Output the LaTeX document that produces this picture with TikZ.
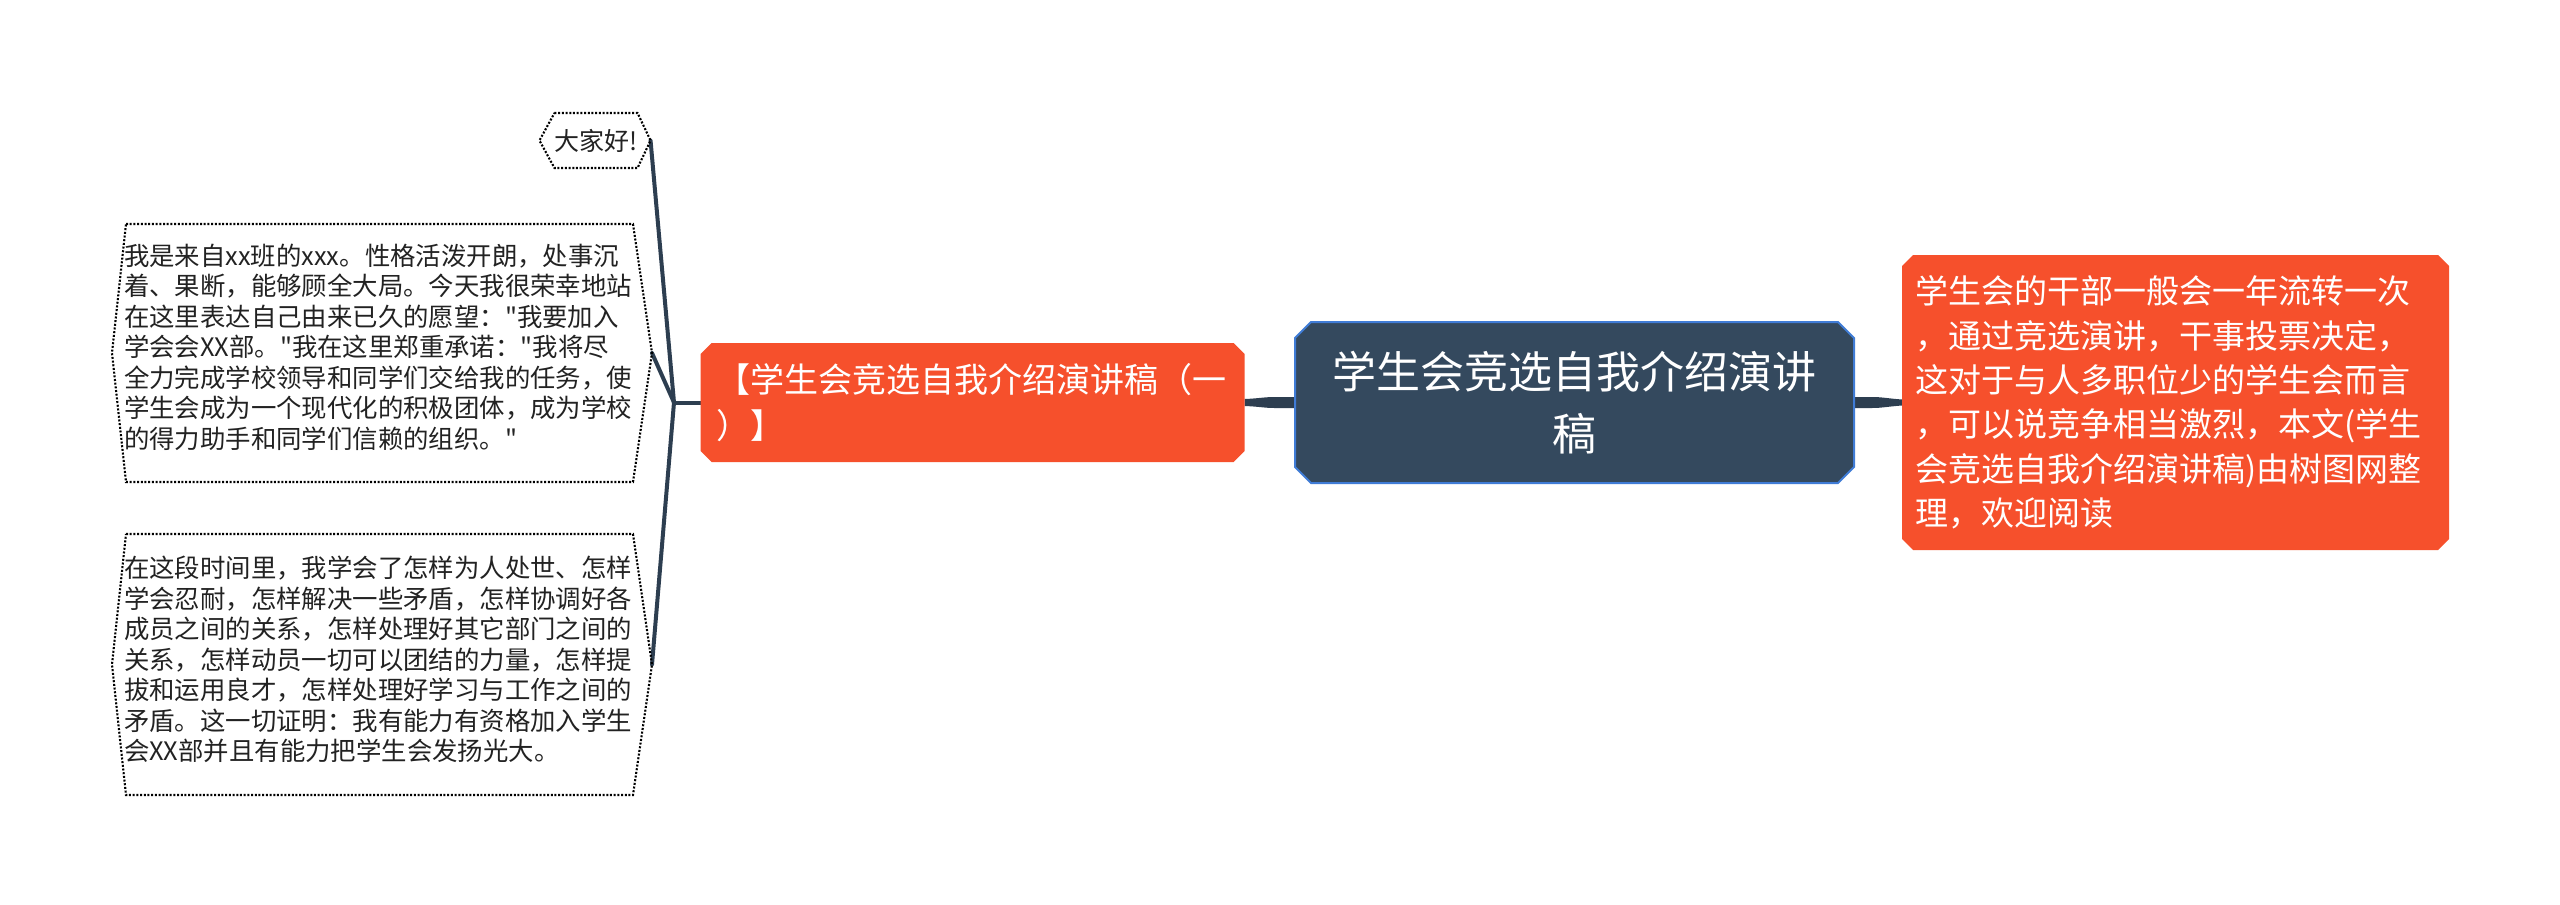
\documentclass[tikz,border=0pt]{standalone}
\usepackage{fontspec}
\setmainfont{Noto Sans CJK SC}[Ligatures=TeXOff]
\usetikzlibrary{calc,backgrounds}
\definecolor{redn}{RGB}{246,80,44}
\definecolor{darkn}{RGB}{52,73,94}
\definecolor{bluen}{RGB}{64,124,214}
\definecolor{conn}{RGB}{45,62,80}
\definecolor{txtd}{RGB}{34,34,34}
\newcommand\chamfpath[2]{($(#1.north west)+(#2,0)$) -- ($(#1.north east)+(-#2,0)$) -- ($(#1.north east)+(0,#2)$) -- ($(#1.south east)+(0,-#2)$) -- ($(#1.south east)+(-#2,0)$) -- ($(#1.south west)+(#2,0)$) -- ($(#1.south west)+(0,-#2)$) -- ($(#1.north west)+(0,#2)$) -- cycle}
\begin{document}
\begin{tikzpicture}[x=1pt,y=-1pt,
  every node/.style={inner sep=0pt, outer sep=0pt},
  boxtxt/.style={anchor=west, align=left, text=txtd, font={\fontsize{25.4pt}{30.5pt}\selectfont}},
  hexline/.style={draw=black, line width=2.1pt, dash pattern=on 2pt off 1.7pt},
  link/.style={draw=conn, line width=4pt, line cap=round, line join=round},
  redbox/.style={text=white, align=left, font={\fontsize{34pt}{46pt}\selectfont}},
]
\useasboundingbox (0,0) rectangle (2560,905);

% central node
\node[text=white, align=center, font={\fontsize{44pt}{62pt}\selectfont},
      minimum width=559pt, minimum height=161pt] (C) at (1574.5,402.5)
      {学生会竞选自我介绍演讲\\稿};
% left red node
\node[redbox, text width=512pt, inner xsep=16pt, minimum height=119pt] (L) at (972.5,402.5)
      {【学生会竞选自我介绍演讲稿（一\\）】};
% right red node
\node[redbox, font={\fontsize{33pt}{44.4pt}\selectfont}, text width=521pt, inner xsep=13pt,
      minimum height=295pt] (R) at (2175.5,402.5)
      {学生会的干部一般会一年流转一次\\，通过竞选演讲，干事投票决定，\\这对于与人多职位少的学生会而言\\，可以说竞争相当激烈，本文(学生\\会竞选自我介绍演讲稿)由树图网整\\理，欢迎阅读};

% hello node
\node[text=txtd, font={\fontsize{25pt}{30pt}\selectfont}, minimum width=82pt, minimum height=55pt] (H) at (596,140.5) {大家好!};
\coordinate (Htip) at ($(H.east)+(13,0)$);
\coordinate (Htail) at ($(H.west)+(-15,0)$);
\draw[hexline] (H.north west) -- (H.north east) -- (Htip) -- (H.south east) -- (H.south west) -- (Htail) -- cycle;

% box 1
\node[minimum width=507pt, minimum height=258pt] (B1) at (379.5,353) {};
\node[boxtxt] (T1) at ($(B1.west)+(-2,-6)$) {我是来自xx班的xxx。性格活泼开朗，处事沉\\着、果断，能够顾全大局。今天我很荣幸地站\\在这里表达自己由来已久的愿望："我要加入\\学会会XX部。"我在这里郑重承诺："我将尽\\全力完成学校领导和同学们交给我的任务，使\\学生会成为一个现代化的积极团体，成为学校\\的得力助手和同学们信赖的组织。"};
\coordinate (B1tip) at ($(B1.east)+(19,0)$);
\coordinate (B1tail) at ($(B1.west)+(-14,0)$);
\draw[hexline] (B1.north west) -- (B1.north east) -- (B1tip) -- (B1.south east) -- (B1.south west) -- (B1tail) -- cycle;

% box 2
\node[minimum width=507pt, minimum height=261pt] (B2) at (379.5,664.5) {};
\node[boxtxt] (T2) at ($(B2.west)+(-2,-5)$) {在这段时间里，我学会了怎样为人处世、怎样\\学会忍耐，怎样解决一些矛盾，怎样协调好各\\成员之间的关系，怎样处理好其它部门之间的\\关系，怎样动员一切可以团结的力量，怎样提\\拔和运用良才，怎样处理好学习与工作之间的\\矛盾。这一切证明：我有能力有资格加入学生\\会XX部并且有能力把学生会发扬光大。};
\coordinate (B2tip) at ($(B2.east)+(19,0)$);
\coordinate (B2tail) at ($(B2.west)+(-14,0)$);
\draw[hexline] (B2.north west) -- (B2.north east) -- (B2tip) -- (B2.south east) -- (B2.south west) -- (B2tail) -- cycle;

\coordinate (hub) at (674,402.5);

\begin{scope}[on background layer]
  \fill[white] (0,0) rectangle (2560,905);
  \draw[link] (hub) -- (Htip);
  \draw[link] (hub) -- (B1tip);
  \draw[link] (hub) -- (B2tip);
  \draw[link] (hub) -- (L.west);
  \fill[conn] ($(L.east)+(0,-3.5)$) .. controls ($(L.east)+(14,-4)$) and ($(L.east)+(20,-5.5)$) .. ($(L.east)+(30,-5.5)$) -- ($(C.west)+(0,-5.5)$) -- ($(C.west)+(0,5.5)$) -- ($(L.east)+(30,5.5)$) .. controls ($(L.east)+(20,5.5)$) and ($(L.east)+(14,4)$) .. ($(L.east)+(0,3.5)$) -- cycle;
  \fill[conn] ($(R.west)+(0,-3)$) .. controls ($(R.west)+(-14,-4)$) and ($(R.west)+(-20,-5.5)$) .. ($(R.west)+(-30,-5.5)$) -- ($(C.east)+(0,-5.5)$) -- ($(C.east)+(0,5.5)$) -- ($(R.west)+(-30,5.5)$) .. controls ($(R.west)+(-20,5.5)$) and ($(R.west)+(-14,4)$) .. ($(R.west)+(0,3)$) -- cycle;
  \fill[redn] \chamfpath{L}{11};
  \fill[redn] \chamfpath{R}{11};
  \filldraw[fill=darkn, draw=bluen, line width=2pt] \chamfpath{C}{16};
\end{scope}
\end{tikzpicture}
\end{document}
